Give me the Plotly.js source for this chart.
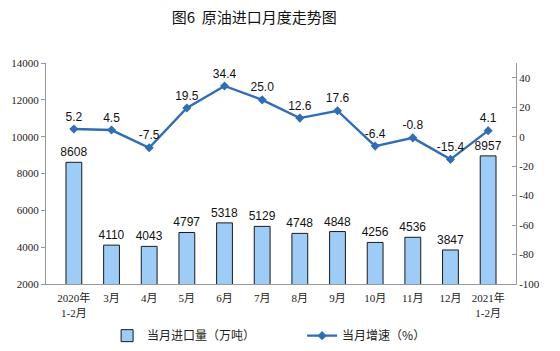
<!DOCTYPE html>
<html><head><meta charset="utf-8">
<script src="https://cdn.plot.ly/plotly-3.0.1.min.js"></script>
<style>html,body{margin:0;padding:0;background:#fff}#chart{width:560px;height:351px}</style>
</head><body><div id="chart"></div>
<script>
const categories = ["2020年<br>1-2月","3月","4月","5月","6月","7月","8月","9月","10月","11月","12月","2021年<br>1-2月"];
const importVolume = [8608,4110,4043,4797,5318,5129,4748,4848,4256,4536,3847,8957];
const growthRate = [5.2,4.5,-7.5,19.5,34.4,25.0,12.6,17.6,-6.4,-0.8,-15.4,4.1];
const leftTicks = [2000,4000,6000,8000,10000,12000,14000];
const rightTicks = [-100,-80,-60,-40,-20,0,20,40];

const tickFont = {family:'"Liberation Serif","Noto Sans CJK SC",serif', size:11, color:'#222'};
const labelFont = {family:'"Liberation Sans",Arial,sans-serif', size:12, color:'#111'};

const data = [
  {type:'bar', x:categories, y:importVolume, name:'当月进口量（万吨）',
   marker:{color:'#9DCDF7', line:{color:'#1a1a1a', width:1}}, width:0.42,
   text:importVolume.map(String), textposition:'outside', constraintext:'none', cliponaxis:false,
   textfont:labelFont, hoverinfo:'skip'},
  {type:'scatter', mode:'lines+markers+text', x:categories, y:growthRate, yaxis:'y2',
   name:'当月增速（%）', line:{color:'#2F6DB5', width:2.4},
   marker:{symbol:'diamond', size:7, color:'#2F6DB5'},
   texttemplate:'%{y:.1f}', textposition:'top center', textfont:labelFont, cliponaxis:false}
];

const layout = {
  width:560, height:351,
  margin:{l:46, r:44, t:63, b:67, autoexpand:false},
  paper_bgcolor:'#fff', plot_bgcolor:'#fff',
  title:{text:'图6  原油进口月度走势图', x:0.443, xanchor:'center', y:0.95, yanchor:'middle', xref:'paper',
         font:{family:'"Noto Sans CJK SC",sans-serif', size:15, color:'#111'}},
  showlegend:true,
  legend:{orientation:'h', xref:'paper', x:0.13, xanchor:'left', yref:'container', y:0.085, yanchor:'top',
          entrywidth:150, entrywidthmode:'pixels',
          font:{family:'"Noto Sans CJK SC",sans-serif', size:12, color:'#222'}, itemwidth:30, tracegroupgap:0},
  xaxis:{type:'category', showline:true, linecolor:'#999', linewidth:1, ticks:'', showgrid:false,
         tickfont:tickFont, tickangle:0, ticklabelstandoff:4},
  yaxis:{range:[2000,14000], tickvals:leftTicks, ticktext:leftTicks.map(String), showline:true, linecolor:'#999', linewidth:1,
         ticks:'outside', ticklen:4, tickcolor:'#999', showgrid:false, zeroline:false, tickfont:tickFont},
  yaxis2:{range:[-100,50], tickvals:rightTicks, ticktext:rightTicks.map(String), overlaying:'y', side:'right', showline:true,
          linecolor:'#999', linewidth:1, ticks:'inside', ticklen:4, tickcolor:'#999',
          showgrid:false, zeroline:false, tickfont:tickFont},
  bargap:0.58
};
Plotly.newPlot('chart', data, layout, {displayModeBar:false, staticPlot:true});
</script></body></html>
